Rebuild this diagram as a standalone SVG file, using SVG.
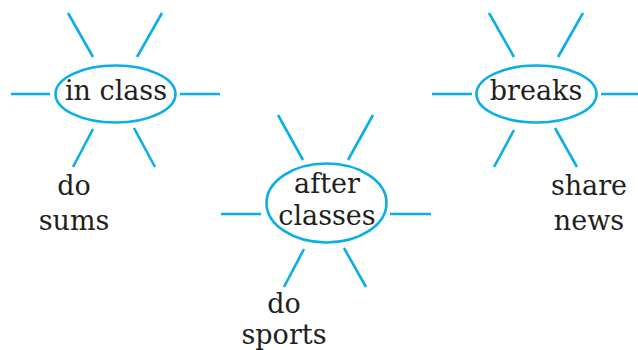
<svg xmlns="http://www.w3.org/2000/svg" width="638" height="350" viewBox="0 0 638 350">
<style>
.ray{stroke:#0aaee8;stroke-width:2.6;fill:none}
.oval{stroke:#0aaee8;stroke-width:2.6;fill:#fff}
text{font-family:"DejaVu Serif","Liberation Serif",serif;font-size:27px;fill:#231f20;text-anchor:middle}
</style>
<rect width="638" height="350" fill="#fff"/>
<g id="connectors">
<line class="ray" x1="11" y1="94" x2="50" y2="94"/>
<line class="ray" x1="180" y1="94" x2="220" y2="94"/>
<line class="ray" x1="68" y1="13" x2="93" y2="57"/>
<line class="ray" x1="162" y1="13" x2="137" y2="57"/>
<line class="ray" x1="93" y1="129" x2="73" y2="167"/>
<line class="ray" x1="134" y1="128" x2="155" y2="167"/>
<line class="ray" x1="221" y1="214" x2="261" y2="214"/>
<line class="ray" x1="390" y1="214" x2="431" y2="214"/>
<line class="ray" x1="278" y1="115" x2="303" y2="160"/>
<line class="ray" x1="373" y1="115" x2="348" y2="160"/>
<line class="ray" x1="304" y1="249" x2="284" y2="287"/>
<line class="ray" x1="344" y1="248" x2="366" y2="287"/>
<line class="ray" x1="432" y1="94" x2="472" y2="94"/>
<line class="ray" x1="601" y1="94" x2="638" y2="94"/>
<line class="ray" x1="489" y1="13" x2="514" y2="57"/>
<line class="ray" x1="583" y1="13" x2="558" y2="57"/>
<line class="ray" x1="514" y1="130" x2="494" y2="167"/>
<line class="ray" x1="555" y1="128" x2="577" y2="167"/>
</g>
<g id="in-class">
<ellipse class="oval" cx="115.5" cy="94" rx="60" ry="28.5"/>
<text x="116" y="100">in class</text>
</g>
<g id="after-classes">
<ellipse class="oval" cx="326.5" cy="203" rx="60" ry="39.5"/>
<text x="327" y="193">after</text>
<text x="327" y="225">classes</text>
</g>
<g id="breaks">
<ellipse class="oval" cx="536.5" cy="94" rx="60" ry="28.5"/>
<text x="536" y="100">breaks</text>
</g>
<g id="do-sums">
<text x="74" y="195">do</text>
<text x="74" y="230">sums</text>
</g>
<g id="do-sports">
<text x="284" y="313">do</text>
<text x="284" y="344">sports</text>
</g>
<g id="share-news">
<text x="589" y="195">share</text>
<text x="589" y="230">news</text>
</g>
</svg>
